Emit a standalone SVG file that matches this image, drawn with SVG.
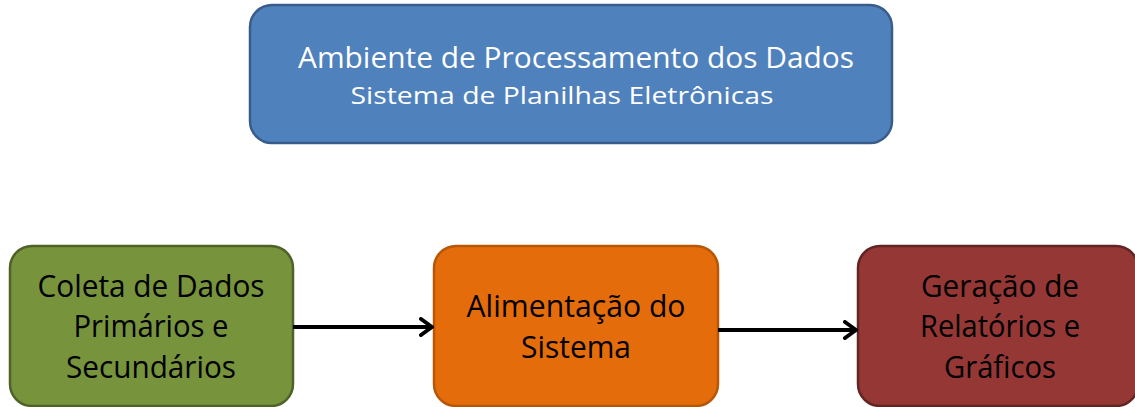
<svg xmlns="http://www.w3.org/2000/svg" width="1135" height="407" viewBox="0 0 1135 407">
<style>
.box{stroke-width:2.5}
.t{font-family:"Open Sans","Liberation Sans",sans-serif;text-anchor:middle}
.w{fill:#ffffff}
.k{fill:#000000;font-size:31px}
.conn{stroke:#000;stroke-width:4;fill:none}
</style>
<defs>
<marker id="arr" markerWidth="16" markerHeight="20" refX="14" refY="10" orient="auto" markerUnits="userSpaceOnUse">
<path d="M3,2 L14,10 L3,18" fill="none" stroke="#000" stroke-width="4" stroke-linecap="round" stroke-linejoin="round"/>
</marker>
</defs>
<rect width="1135" height="407" fill="#ffffff"/>
<g id="ambiente">
<rect class="box" x="250" y="5" width="642" height="138" rx="22" fill="#4F81BD" stroke="#385D8A"/>
<text class="t w" x="576" y="68" font-size="30" textLength="556" lengthAdjust="spacingAndGlyphs">Ambiente de Processamento dos Dados</text>
<text class="t w" x="562" y="104" font-size="24" textLength="423" lengthAdjust="spacingAndGlyphs">Sistema de Planilhas Eletrônicas</text>
</g>
<g id="coleta">
<rect class="box" x="10" y="246" width="283" height="160" rx="22" fill="#77933C" stroke="#4F6228"/>
<text class="t k" x="151" y="297" textLength="227" lengthAdjust="spacingAndGlyphs">Coleta de Dados</text>
<text class="t k" x="151" y="337" textLength="155" lengthAdjust="spacingAndGlyphs">Primários e</text>
<text class="t k" x="151" y="378" textLength="170" lengthAdjust="spacingAndGlyphs">Secundários</text>
</g>
<g id="alimentacao">
<rect class="box" x="434" y="246" width="284" height="160" rx="22" fill="#E46C0A" stroke="#B65708"/>
<text class="t k" x="576" y="317" textLength="219" lengthAdjust="spacingAndGlyphs">Alimentação do</text>
<text class="t k" x="576" y="358" textLength="110" lengthAdjust="spacingAndGlyphs">Sistema</text>
</g>
<g id="geracao">
<rect class="box" x="858" y="246" width="280" height="160" rx="22" fill="#953735" stroke="#632523"/>
<text class="t k" x="1000" y="297" textLength="158" lengthAdjust="spacingAndGlyphs">Geração de</text>
<text class="t k" x="1000" y="337" textLength="160" lengthAdjust="spacingAndGlyphs">Relatórios e</text>
<text class="t k" x="1000" y="378" textLength="112" lengthAdjust="spacingAndGlyphs">Gráficos</text>
</g>
<g id="connectors">
<line class="conn" x1="293" y1="327" x2="432" y2="327" marker-end="url(#arr)"/>
<line class="conn" x1="718" y1="330" x2="856" y2="330" marker-end="url(#arr)"/>
</g>
</svg>
